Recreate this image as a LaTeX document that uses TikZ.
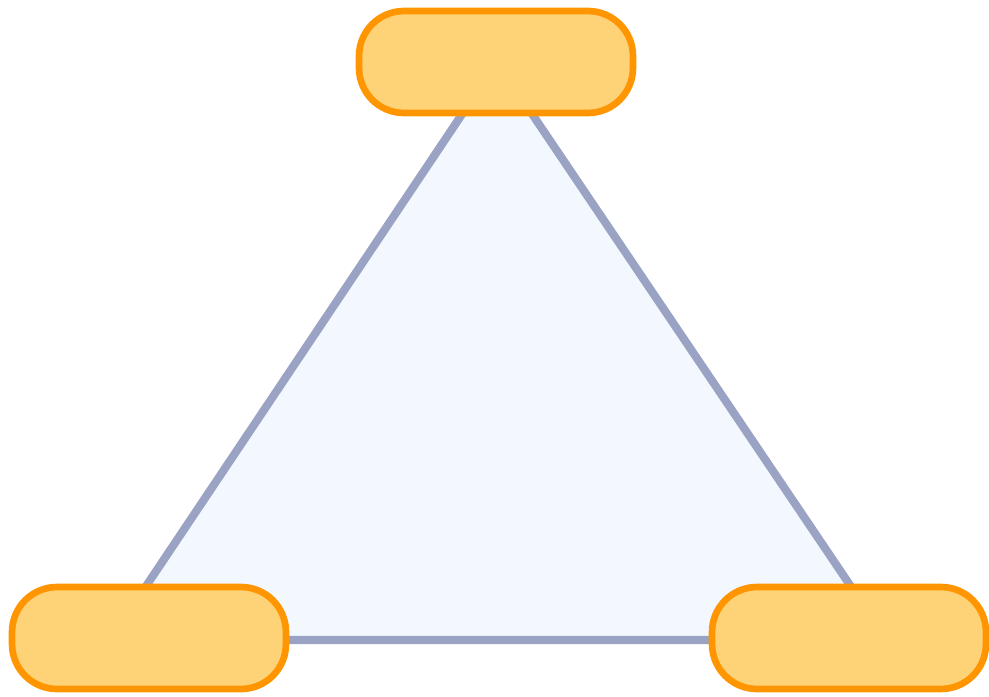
\documentclass[tikz,border=0pt]{standalone}
\usepackage{xcolor}
\usetikzlibrary{positioning,backgrounds}
\definecolor{boxfill}{HTML}{FED276}
\definecolor{boxline}{HTML}{FF9500}
\definecolor{edge}{HTML}{9AA3C4}
\definecolor{inner}{HTML}{F3F8FE}

\begin{document}
\begin{tikzpicture}[x=0.02cm,y=-0.02cm,
  cornerbox/.style={rectangle,rounded corners=0.9cm,draw=boxline,fill=boxfill,line width=3.8pt,minimum width=5.48cm,minimum height=2.04cm,inner sep=0pt}]
  \useasboundingbox (0,0) rectangle (989,696);
  % triangle corners
  \coordinate (ta) at (497,62);
  \coordinate (tb) at (110,640);
  \coordinate (tc) at (887,640);
  \draw[edge,fill=inner,line width=4.6pt,line join=round] (ta) -- (tb) -- (tc) -- cycle;
  % boxes on the corners
  \node[cornerbox] (top) at (496,62) {};
  \node[cornerbox] (left) at (149,638) {};
  \node[cornerbox] (right) at (849,638) {};
\end{tikzpicture}
\end{document}
